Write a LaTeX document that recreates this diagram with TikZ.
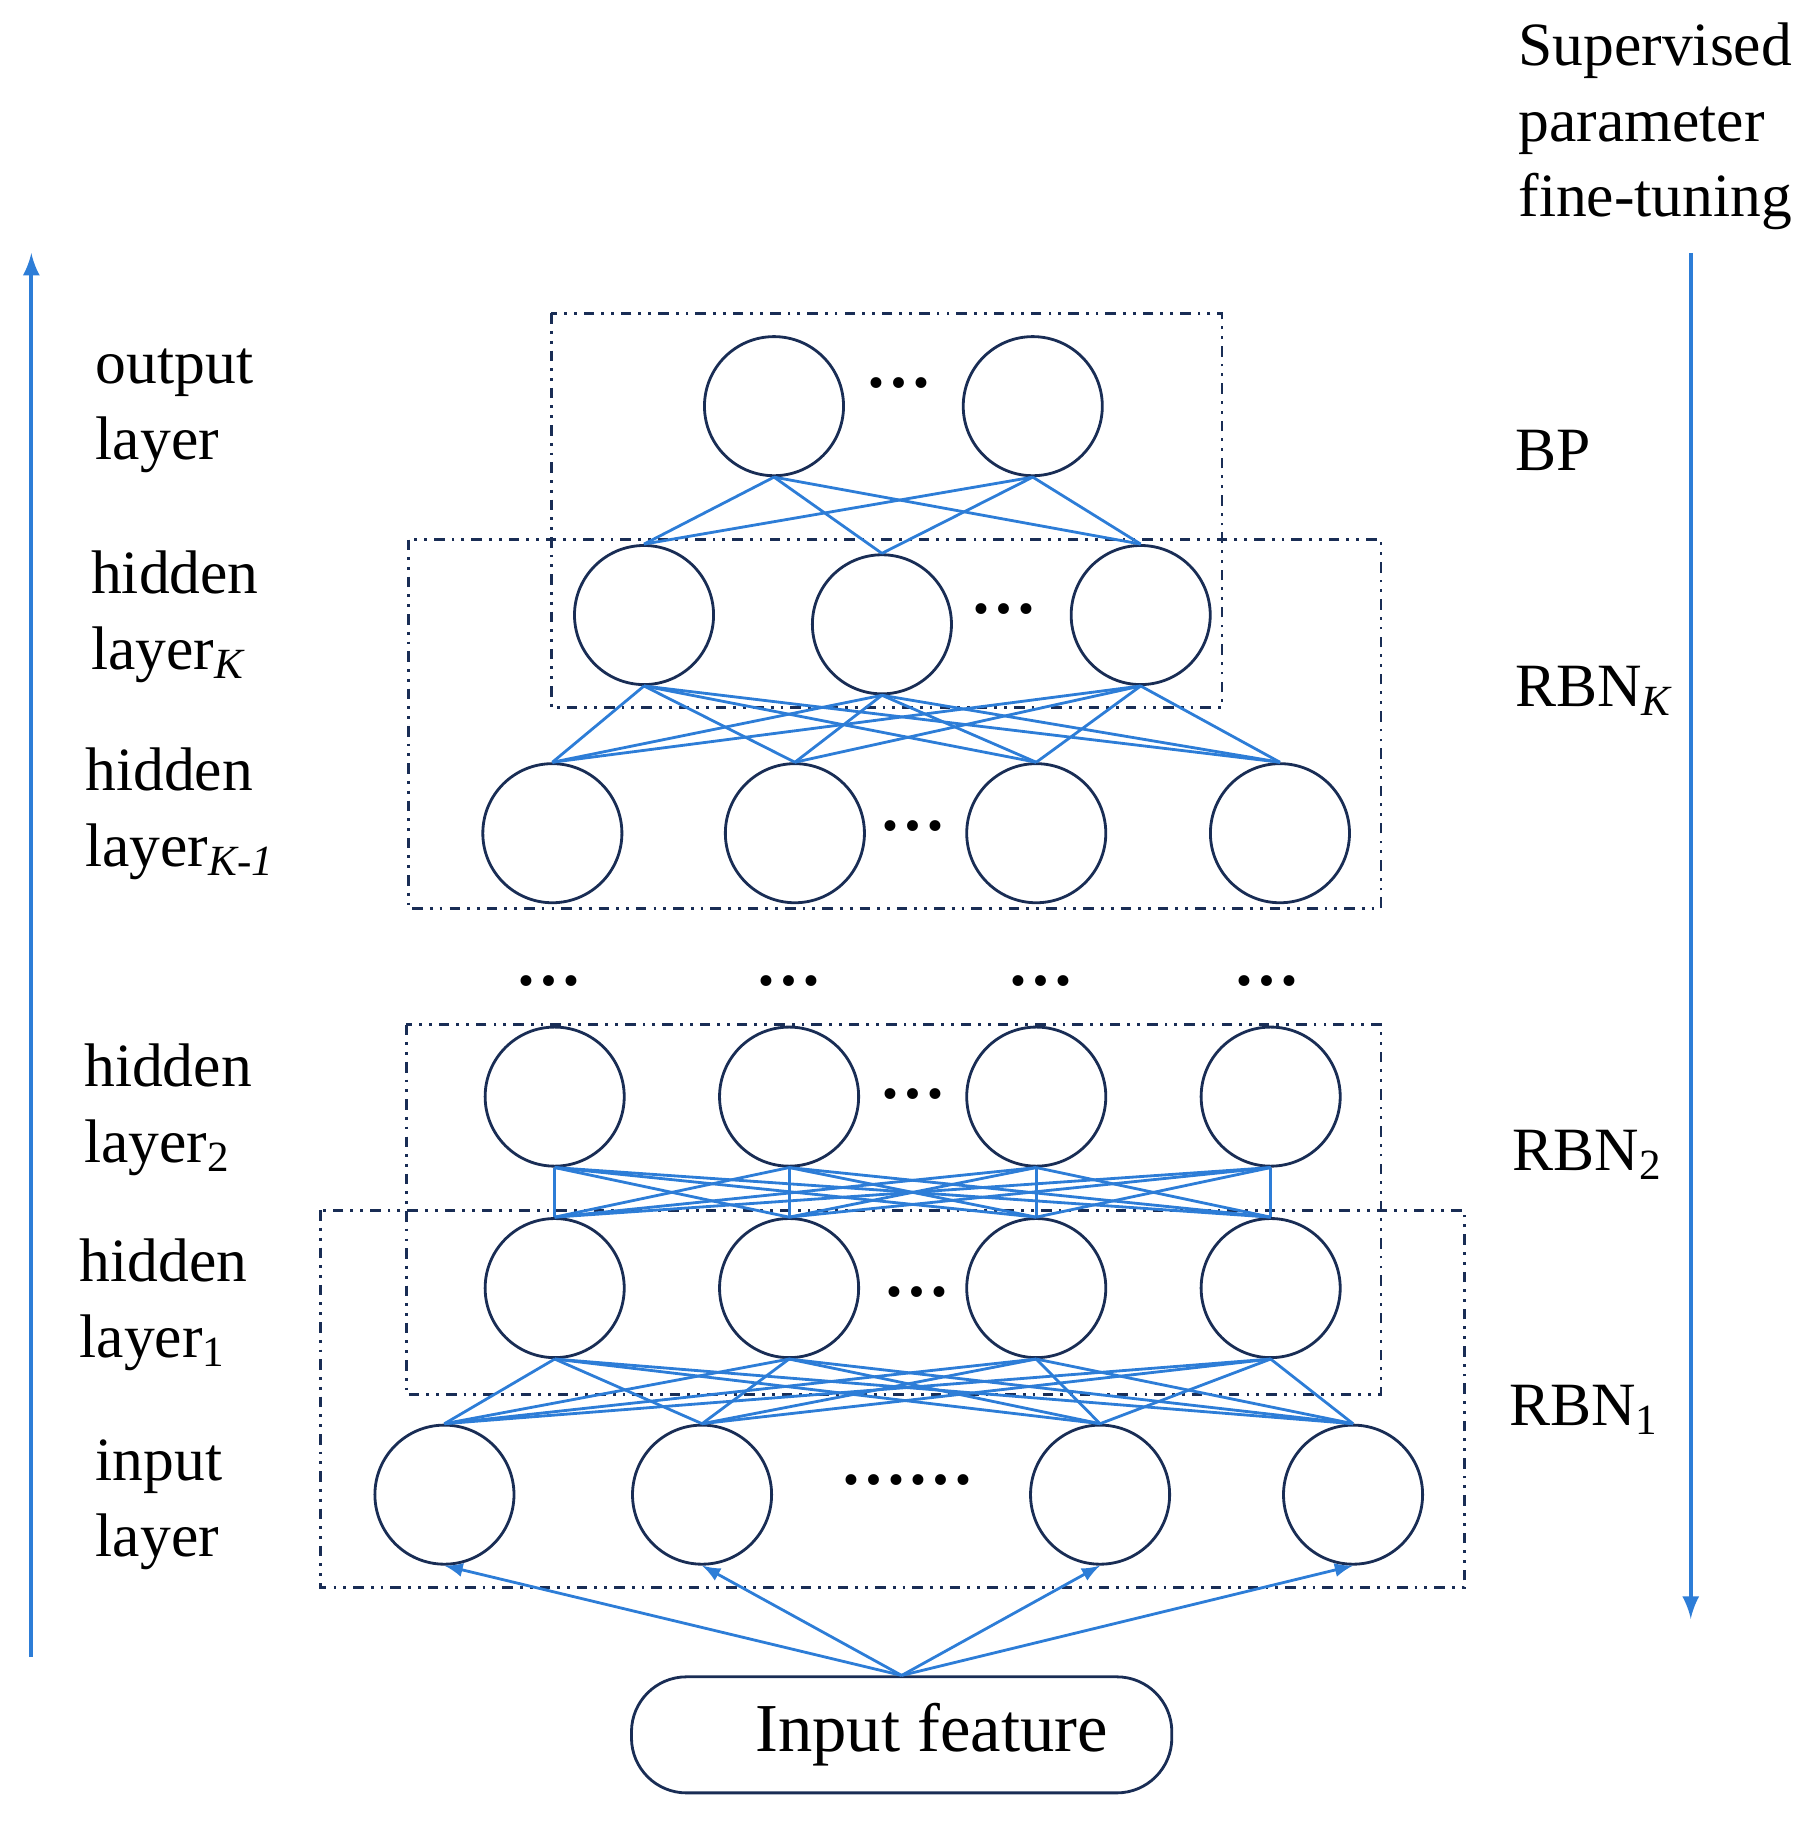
\documentclass[tikz,border=0pt]{standalone}
\usepackage{fontspec}
\setmainfont{Liberation Serif}
\usetikzlibrary{positioning}
\usetikzlibrary{calc}
\definecolor{netblue}{RGB}{45,125,215}
\definecolor{navy}{RGB}{25,45,85}
\begin{document}
\begin{tikzpicture}[x=0.0116cm,y=-0.0116cm,
			neuron/.style={circle, draw=navy, thick, minimum size=1.39cm, inner sep=0pt},
			layerbox/.style={draw=navy, thick, dash dot dot},
			link/.style={netblue, thick},
			label/.style={font=\fontsize{17.5}{21.5}\selectfont, align=left, anchor=north west, inner sep=0pt},
			dots/.style={font=\fontsize{19}{22}\selectfont\bfseries},
			]
			\useasboundingbox (0,0) rectangle (1560,1577);
			%Boxes
			\draw[layerbox] (475,270) rectangle (1053,610);
			\draw[layerbox] (352,465) rectangle (1190,783);
			\draw[layerbox] (350,883) rectangle (1190,1202);
			\draw[layerbox] (276,1043) rectangle (1262,1368);
			%Nodes
			\node[neuron] (O1) at (667,350) {};
			\node[neuron] (O2) at (890,350) {};
			\node[neuron] (K1) at (555,530) {};
			\node[neuron] (K2) at (760,538) {};
			\node[neuron] (K3) at (983,530) {};
			\foreach \x [count=\i] in {476,685,893,1103}
				\node[neuron] (L\i) at (\x,718) {};
			\foreach \x [count=\i] in {478,680,893,1095}
				\node[neuron] (B\i) at (\x,945) {};
			\foreach \x [count=\i] in {478,680,893,1095}
				\node[neuron] (A\i) at (\x,1110) {};
			\foreach \x [count=\i] in {383,605,948,1166}
				\node[neuron] (I\i) at (\x,1288) {};
			\node[draw=navy, thick, rounded corners=0.55cm, minimum width=5.4cm, minimum height=1.16cm, font=\fontsize{19.5}{23}\selectfont] (feature) at (777,1495) {\hspace{0.6cm}Input feature};
			%Dots
			\node[dots] at (775,330) {…};
			\node[dots] at (865,525) {…};
			\node[dots] at (787,712) {…};
			\foreach \x in {473,680,897,1092}
				\node[dots] at (\x,845) {…};
			\node[dots] at (787,943) {…};
			\node[dots] at (790,1113) {…};
			\node[dots] at (782,1275) {……};
			%Labels
			\node[label] (lout) at (82,300) {output\\layer};
			\node[label] (lhK) at (78,474) {hidden\\layer\textsubscript{\textit{K}}};
			\node[label] (lhK1) at (73,644) {hidden\\layer\textsubscript{\textit{K-1}}};
			\node[label] (lh2) at (72,899) {hidden\\layer\textsubscript{2}};
			\node[label] (lh1) at (68,1067) {hidden\\layer\textsubscript{1}};
			\node[label] (lin) at (82,1240) {input\\layer};
			\node[label] (sup) at (1308,19) {Supervised\\parameter\\fine-tuning};
			\node[label, anchor=west] (bp) at (1305,388) {BP};
			\node[label, anchor=west] (rbnK) at (1305,595) {RBN\textsubscript{\textit{K}}};
			\node[label, anchor=west] (rbn2) at (1303,995) {RBN\textsubscript{2}};
			\node[label, anchor=west] (rbn1) at (1300,1215) {RBN\textsubscript{1}};
			%Side arrows
			\coordinate (upS) at (27,1428);
			\coordinate (upE) at (27,218);
			\coordinate (dnS) at (1457,218);
			\coordinate (dnE) at (1457,1395);
			\draw[-latex, netblue, very thick] (upS) -- (upE);
			\draw[-latex, netblue, very thick] (dnS) -- (dnE);
			%Lines
			\foreach \u in {1,2}
				\foreach \v in {1,2,3}
					\draw[link] (O\u.south) -- (K\v.north);
			\foreach \u in {1,2,3}
				\foreach \v in {1,...,4}
					\draw[link] (K\u.south) -- (L\v.north);
			\foreach \u in {1,...,4}
				\foreach \v in {1,...,4}
					\draw[link] (B\u.south) -- (A\v.north);
			\foreach \u in {1,...,4}
				\foreach \v in {1,...,4}
					\draw[link] (A\u.south) -- (I\v.north);
			\foreach \v in {1,...,4}
				\draw[-latex, link] (feature.north) -- (I\v.south);
		\end{tikzpicture}
\end{document}
